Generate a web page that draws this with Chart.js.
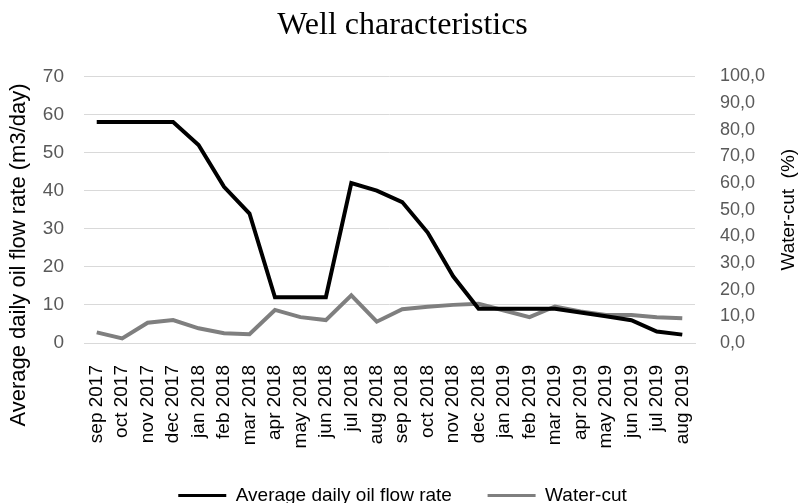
<!DOCTYPE html>
<html>
<head>
<meta charset="utf-8">
<script src="https://cdn.jsdelivr.net/npm/chart.js@4.4.1/dist/chart.umd.min.js"></script>
<style>
  html, body { margin: 0; padding: 0; background: #fff; }
  #wrap { width: 805px; height: 503px; }
</style>
</head>
<body>
<div id="wrap"><canvas id="chart"></canvas></div>
<script>
// monthly data, sep 2017 - aug 2019
var months = ['sep 2017', 'oct 2017', 'nov 2017', 'dec 2017', 'jan 2018', 'feb 2018',
    'mar 2018', 'apr 2018', 'may 2018', 'jun 2018', 'jul 2018', 'aug 2018',
    'sep 2018', 'oct 2018', 'nov 2018', 'dec 2018', 'jan 2019', 'feb 2019',
    'mar 2019', 'apr 2019', 'may 2019', 'jun 2019', 'jul 2019', 'aug 2019'];

// m3/day (left axis)
var oilRate = [58, 58, 58, 58, 52, 41, 34, 12, 12, 12, 42, 40,
    37, 29, 17.5, 9, 9, 9, 9, 8, 7, 6, 3, 2.2];

// % (right axis)
var waterCut = [4, 1.7, 7.6, 8.6, 5.5, 3.7, 3.3, 12.4, 9.7, 8.6, 17.9, 8,
    12.7, 13.6, 14.3, 14.7, 12.2, 9.7, 13.7, 11.8, 10.5, 10.5, 9.7, 9.3];

var seriesNames = ['Average daily oil flow rate', 'Water-cut'];
var leftTitle = 'Average daily oil flow rate (m3/day)';
var rightTitle = 'Water-cut  (%)';

var FONT = "'Liberation Sans', Arial, sans-serif";
Chart.defaults.font.family = FONT;

// both axis titles read bottom-to-top in the original, Chart.js turns the right one
// the other way, so draw them here
var axisTitles = {
    id: 'axisTitles',
    afterDraw: function (chart, args, opts) {
        var c = chart.ctx;
        var area = chart.chartArea;
        opts.items.forEach(function (t) {
            c.save();
            c.translate(t.x, area.top + t.yFrac * (area.bottom - area.top));
            c.rotate(-Math.PI / 2);
            c.font = t.size + 'px ' + FONT;
            c.fillStyle = '#000000';
            c.textAlign = 'center';
            c.textBaseline = 'middle';
            c.fillText(t.text, 0, 0);
            c.restore();
        });
    }
};

var ctx = document.getElementById('chart');
var myChart = new Chart(ctx, {
    type: 'line',
    data: {
        labels: months,
        datasets: [{
            label: seriesNames[0],
            data: oilRate,
            yAxisID: 'y',
            borderColor: '#000000',
            backgroundColor: '#000000',
            borderWidth: 4,
            pointRadius: 0,
            tension: 0
        }, {
            label: seriesNames[1],
            data: waterCut,
            yAxisID: 'y1',
            borderColor: '#7f7f7f',
            backgroundColor: '#7f7f7f',
            borderWidth: 4,
            pointRadius: 0,
            tension: 0
        }]
    },
    options: {
        responsive: true,
        maintainAspectRatio: false,
        animation: false,
        layout: { padding: { left: 0, right: 0, top: 0, bottom: -12 } },
        scales: {
            x: {
                offset: true,
                grid: { display: false },
                border: { display: true, color: '#d9d9d9', width: 1 },
                ticks: {
                    color: '#000000',
                    font: { size: 19 },
                    maxRotation: 90,
                    minRotation: 90,
                    autoSkip: false,
                    padding: 14
                },
                afterFit: function (scale) { scale.height = 139; }
            },
            y: {
                position: 'left',
                min: 0,
                max: 70,
                border: { display: false },
                grid: { color: '#d9d9d9', drawTicks: false },
                ticks: {
                    stepSize: 10,
                    color: '#595959',
                    font: { size: 19 },
                    padding: 20
                },
                afterFit: function (scale) { scale.width = 84; }
            },
            y1: {
                position: 'right',
                min: 0,
                max: 100,
                border: { display: false },
                grid: { display: false },
                ticks: {
                    stepSize: 10,
                    color: '#595959',
                    font: { size: 18 },
                    padding: 17,
                    callback: function (value) {
                        return value.toFixed(1).replace('.', ',');
                    }
                },
                afterFit: function (scale) { scale.width = 110; }
            }
        },
        plugins: {
            title: {
                display: true,
                text: 'Well characteristics',
                color: '#000000',
                font: { family: "'Liberation Serif', 'Times New Roman', serif", size: 32, weight: 'normal' },
                padding: { top: 6, bottom: 32 }
            },
            legend: {
                position: 'bottom',
                labels: {
                    color: '#000000',
                    font: { size: 19 },
                    boxWidth: 48,
                    boxHeight: 3,
                    padding: 4,
                    generateLabels: function (chart) {
                        var items = Chart.defaults.plugins.legend.labels.generateLabels(chart);
                        items.forEach(function (it, i) {
                            it.lineWidth = 0;
                            // wider gap between the two entries, like the original
                            if (i === 0) it.text = seriesNames[0] + ' '.repeat(6);
                        });
                        return items;
                    }
                }
            },
            tooltip: { enabled: false },
            axisTitles: {
                items: [
                    { text: leftTitle, x: 19, yFrac: 0.67, size: 22 },
                    { text: rightTitle, x: 789, yFrac: 0.5, size: 19 }
                ]
            }
        }
    },
    plugins: [axisTitles]
});
</script>
</body>
</html>
